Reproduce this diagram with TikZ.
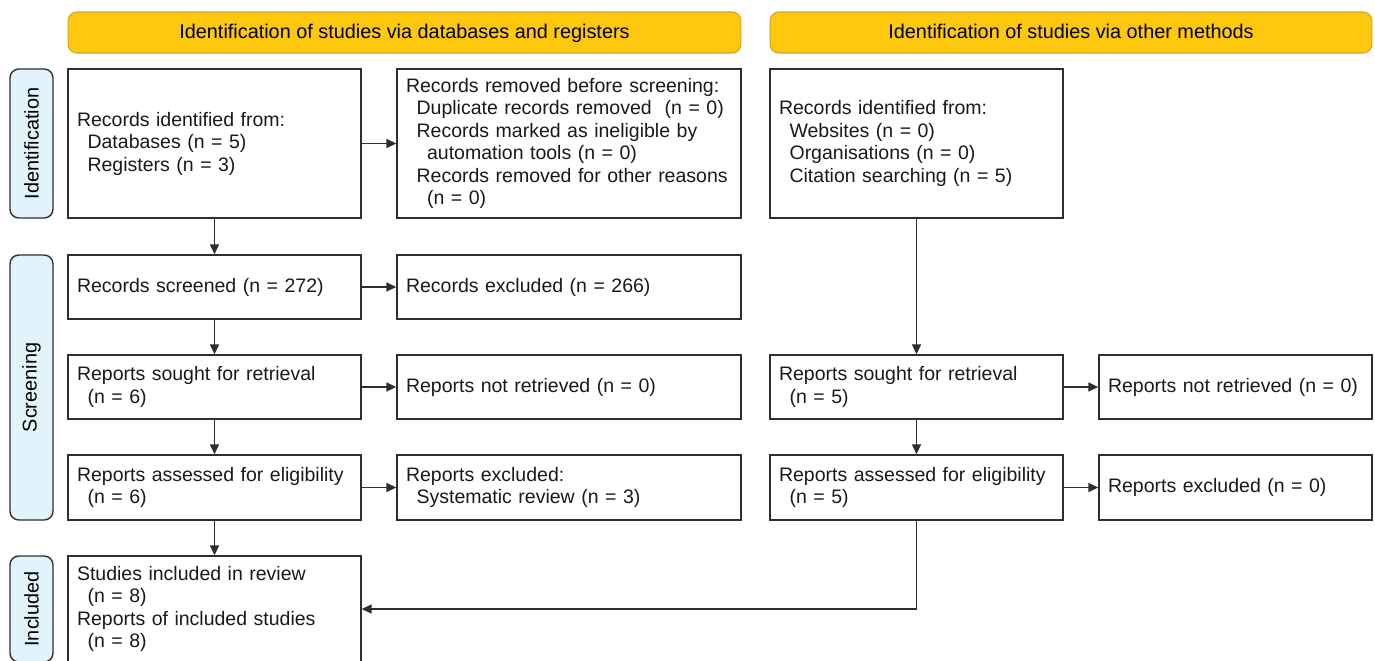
\documentclass[tikz,border=0pt]{standalone}
\usepackage{fontspec}
\setmainfont{Liberation Sans}
\usetikzlibrary{arrows.meta}
\definecolor{headYellow}{HTML}{FDC80E}
\definecolor{headEdge}{HTML}{D5A32A}
\definecolor{sideBlue}{HTML}{E1F3FB}
\definecolor{lineGray}{HTML}{2E2E2E}
\newcommand*{\subline}{\hspace*{6pt}}
\newcommand*{\subsubline}{\hspace*{12pt}}
\tikzset{
	flowbox/.style={draw=lineGray, line width=0.8pt, align=left, inner xsep=0.18cm, inner ysep=0pt,
		font=\fontsize{11.1}{12.8}\selectfont, text=black!90},
	colbox/.style={flowbox, minimum width=5.86cm, text width=5.50cm},
	sidebox/.style={flowbox, minimum width=6.88cm, text width=6.52cm},
	farbox/.style={flowbox, minimum width=5.46cm, text width=5.10cm},
	headbox/.style={draw=headEdge, fill=headYellow, line width=0.6pt, rounded corners=5pt,
		minimum height=0.82cm, text height=0.74em, text depth=0.06em, font=\fontsize{11.3}{12.8}\selectfont},
	phasebox/.style={draw=lineGray, fill=sideBlue, line width=0.8pt, rounded corners=5pt,
		minimum width=2.12cm, minimum height=0.86cm, rotate=90, font=\fontsize{11.3}{12.8}\selectfont},
	arr/.style={-{Triangle[length=0.2cm,width=0.18cm]}, draw=lineGray, line width=0.8pt}
}
\begin{document}
\begin{tikzpicture}[x=0.02cm,y=-0.02cm]
		\useasboundingbox (0,0) rectangle (1375,660);
		\clip (0,0) rectangle (1375,660);
		
		% headers
		\node[headbox, minimum width=13.46cm] (headDb) at (404.5,32.5) {Identification of studies via databases and registers};
		\node[headbox, minimum width=12.04cm] (headOther) at (1071,32.5) {Identification of studies via other methods};
		
		% phase labels
		\node[phasebox, minimum width=2.98cm] (phaseId) at (31.5,143.5) {Identification};
		\node[phasebox, minimum width=5.30cm] (phaseScr) at (31.5,387.5) {Screening};
		\node[phasebox, minimum width=2.12cm] (phaseInc) at (31.5,609) {Included};
		
		% databases and registers
		\node[colbox, minimum height=2.98cm] (identified) at (214.5,143.5)
		{Records identified from:\\ \subline Databases (n = 5)\\ \subline Registers (n = 3)};
		\node[sidebox, minimum height=2.98cm] (removed) at (569,143.5)
		{Records removed before screening:\\ \subline Duplicate records removed\ \ (n = 0)\\
			\subline Records marked as ineligible by\\ \subsubline automation tools (n = 0)\\
			\subline Records removed for other reasons\\ \subsubline (n = 0)};
		\node[colbox, minimum height=1.28cm] (screened) at (214.5,287) {Records screened (n = 272)};
		\node[sidebox, minimum height=1.28cm] (excluded) at (569,287) {Records excluded (n = 266)};
		\node[colbox, minimum height=1.28cm] (sought) at (214.5,387) {Reports sought for retrieval\\ \subline (n = 6)};
		\node[sidebox, minimum height=1.28cm] (notRetrieved) at (569,387) {Reports not retrieved (n = 0)};
		\node[colbox, minimum height=1.30cm] (assessed) at (214.5,487.5) {Reports assessed for eligibility\\ \subline (n = 6)};
		\node[sidebox, minimum height=1.30cm] (reportsExcl) at (569,487.5) {Reports excluded:\\ \subline Systematic review (n = 3)};
		\node[colbox, minimum height=2.12cm] (included) at (214.5,609)
		{Studies included in review\\ \subline (n = 8)\\ Reports of included studies\\ \subline (n = 8)};
		
		% other methods
		\node[colbox, minimum height=2.98cm] (otherIdentified) at (916.5,143.5)
		{Records identified from:\\ \subline Websites (n = 0)\\ \subline Organisations (n = 0)\\ \subline Citation searching (n = 5)};
		\node[colbox, minimum height=1.28cm] (otherSought) at (916.5,387) {Reports sought for retrieval\\ \subline (n = 5)};
		\node[farbox, minimum height=1.28cm] (otherNotRetrieved) at (1235.5,387) {Reports not retrieved (n = 0)};
		\node[colbox, minimum height=1.30cm] (otherAssessed) at (916.5,487.5) {Reports assessed for eligibility\\ \subline (n = 5)};
		\node[farbox, minimum height=1.30cm] (otherExcl) at (1235.5,487.5) {Reports excluded (n = 0)};
		
		% arrows down
		\foreach \a/\b in {identified/screened,screened/sought,sought/assessed,assessed/included,otherIdentified/otherSought,otherSought/otherAssessed}
		{
			\draw[arr] (\a.south) -- (\b.north);
		}
		% arrows right
		\foreach \a/\b in {identified/removed,screened/excluded,sought/notRetrieved,assessed/reportsExcl,otherSought/otherNotRetrieved,otherAssessed/otherExcl}
		{
			\draw[arr] (\a.east) -- (\b.west);
		}
		% other methods into included
		\draw[arr] (otherAssessed.south) |- (included.east);
		
	\end{tikzpicture}
\end{document}
